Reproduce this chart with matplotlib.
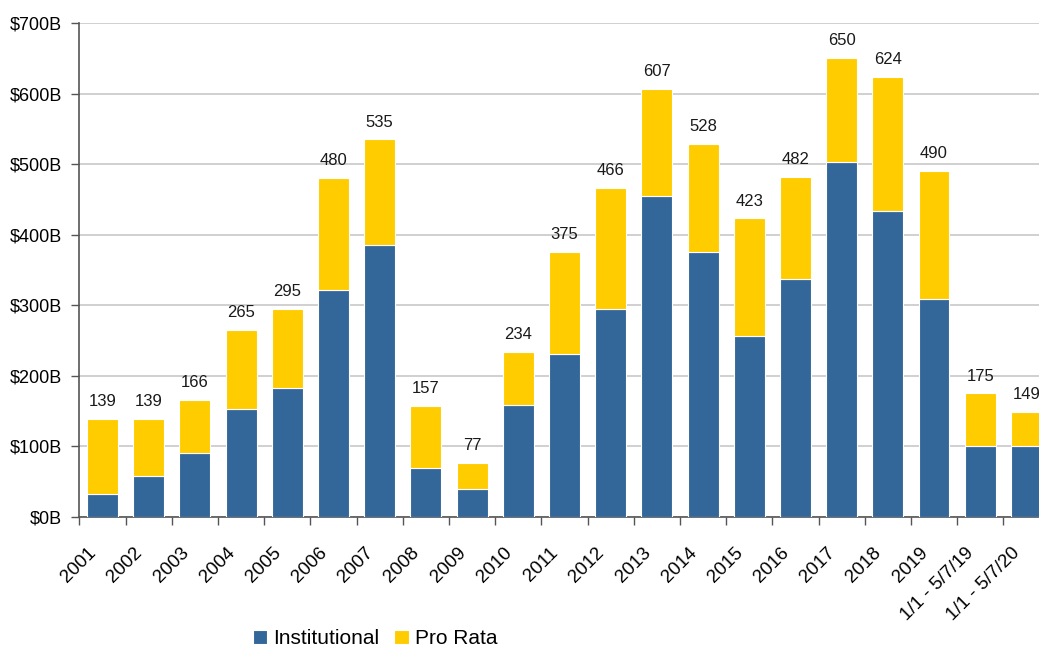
import matplotlib
matplotlib.use("Agg")
import matplotlib.pyplot as plt
import matplotlib.transforms as mtransforms
import numpy as np

categories = ["2001", "2002", "2003", "2004", "2005", "2006", "2007", "2008",
              "2009", "2010", "2011", "2012", "2013", "2014", "2015", "2016",
              "2017", "2018", "2019", "1/1 - 5/7/19", "1/1 - 5/7/20"]
totals = [139, 139, 166, 265, 295, 480, 535, 157, 77, 234, 375, 466, 607,
          528, 423, 482, 650, 624, 490, 175, 149]
institutional = [33, 58, 91, 153, 183, 321, 385, 70, 39, 159, 231, 295, 455,
                 376, 257, 337, 503, 433, 309, 101, 100]
pro_rata = [t - i for t, i in zip(totals, institutional)]

y_ticks = [0, 100, 200, 300, 400, 500, 600, 700]
y_labels = ["$0B", "$100B", "$200B", "$300B", "$400B", "$500B", "$600B", "$700B"]

blue = "#336699"
yellow = "#FFCC00"

plt.rcParams['font.family'] = ['Liberation Sans', 'DejaVu Sans']

fig = plt.figure(figsize=(10.39, 6.49), dpi=100)
ax = fig.add_axes([0.0765, 0.2034, 0.9336, 0.7612])

x = np.arange(len(categories))
ax.bar(x, institutional, width=0.67, color=blue, edgecolor="white",
       linewidth=0.8, label="Institutional", zorder=3)
ax.bar(x, pro_rata, width=0.67, bottom=institutional, color=yellow,
       edgecolor="white", linewidth=0.8, label="Pro Rata", zorder=3)

# Total labels above each bar
for xi, t in zip(x, totals):
    ax.text(xi, t + 14, str(t), ha="center", va="bottom", fontsize=12,
            color="#1a1a1a")

ax.set_xlim(-0.5, len(categories) - 0.5)
ax.set_ylim(0, 700)

ax.set_yticks(y_ticks)
ax.set_yticklabels(y_labels, fontsize=13)
ax.yaxis.grid(True, color="#c8c8c8", linewidth=1.2, zorder=0)

ax.set_xticks(x)
ax.set_xticklabels(categories, rotation=45, ha="right", va="center",
                   rotation_mode="anchor", fontsize=13.5)
ax.set_xticks(np.arange(-0.5, len(categories)), minor=True)
ax.tick_params(axis="x", which="major", length=0, pad=24)
ax.tick_params(axis="x", which="minor", length=5.8, direction="out",
               color="#555555", width=1)
ax.tick_params(axis="y", length=5.8, direction="out", color="#555555",
               width=1, pad=7)

# shift rotated labels a little to the left, like the original
shift = mtransforms.ScaledTranslation(-9 / 100, 0, fig.dpi_scale_trans)
for lbl in ax.get_xticklabels():
    lbl.set_transform(lbl.get_transform() + shift)

for side in ["top", "right"]:
    ax.spines[side].set_visible(False)
ax.spines["left"].set_color("#555555")
ax.spines["bottom"].set_color("#555555")
ax.spines["left"].set_linewidth(1.2)
ax.spines["bottom"].set_linewidth(1.2)

fig.legend(loc="center", bbox_to_anchor=(0.361, 0.016), ncol=2,
           frameon=False, fontsize=15, handlelength=0.7, handleheight=0.7,
           handletextpad=0.3, columnspacing=0.7)

fig.savefig("out.png", dpi=100)
